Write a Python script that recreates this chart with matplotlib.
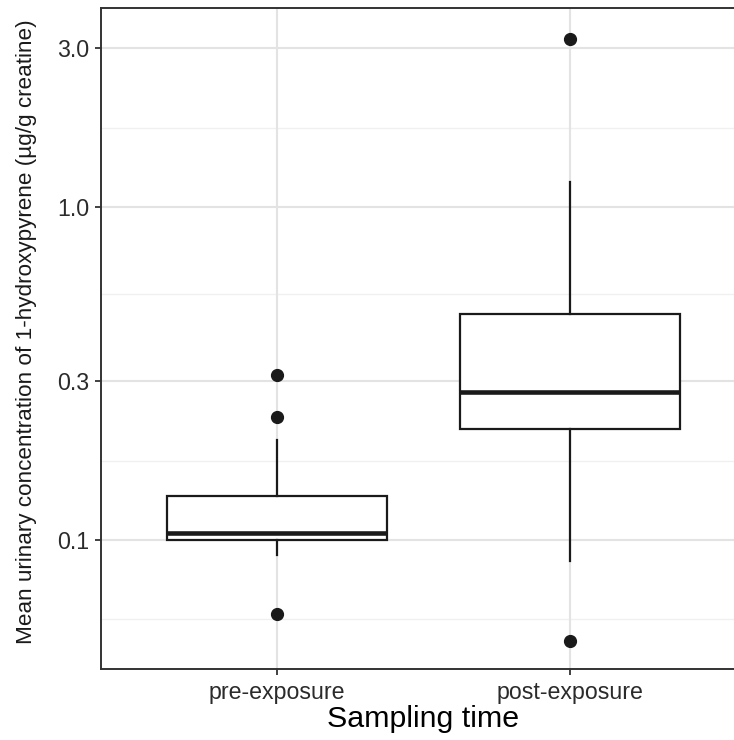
import numpy as np
import matplotlib.pyplot as plt

# ---- data ----
categories = ["pre-exposure", "post-exposure"]
whislo = [0.0901, 0.0865]
q1 = [0.100, 0.215]
med = [0.1047, 0.279]
q3 = [0.136, 0.477]
whishi = [0.1995, 1.19]
fliers = [[0.313, 0.234, 0.0598], [3.196, 0.0499]]

y_ticks = [0.1, 0.3, 1.0, 3.0]
y_tick_labels = ["0.1", "0.3", "1.0", "3.0"]

plt.rcParams["font.family"] = ["Liberation Sans", "DejaVu Sans"]

fig = plt.figure(figsize=(7.34, 7.40), dpi=100)
# right side of the panel is cut off in the reference
ax = fig.add_axes([101 / 734, 71 / 740, 645 / 734, 661 / 740])

stats = []
for i in range(len(categories)):
    stats.append(dict(whislo=whislo[i], q1=q1[i], med=med[i], q3=q3[i],
                      whishi=whishi[i], fliers=fliers[i], label=categories[i]))

pos = np.arange(1, len(categories) + 1)
ax.bxp(stats, positions=pos, widths=0.75, showcaps=False, patch_artist=True,
       boxprops=dict(facecolor="white", edgecolor="#1a1a1a", linewidth=1.6),
       medianprops=dict(color="#1a1a1a", linewidth=3.3, solid_capstyle="butt"),
       whiskerprops=dict(color="#1a1a1a", linewidth=1.6),
       flierprops=dict(marker="o", markerfacecolor="#1a1a1a",
                       markeredgecolor="#1a1a1a", markersize=8.5),
       zorder=3)

ax.set_yscale("log")
ax.set_ylim(0.04099, 3.959)
ax.set_xlim(0.4, 2.6)

ax.set_yticks(y_ticks)
ax.set_yticklabels(y_tick_labels)
ax.set_xticks(pos)
ax.set_xticklabels(categories)
ax.minorticks_off()

# grid: major + minor (minor lines halfway between majors in log space)
logt = np.log10(y_ticks)
mids = list((logt[:-1] + logt[1:]) / 2)
mids.append(logt[0] - (logt[-1] - logt[-2]) / 2)
for m in mids:
    ax.axhline(10 ** m, color="#F0F0F0", linewidth=1.0, zorder=0)
for t in y_ticks:
    ax.axhline(t, color="#E3E3E3", linewidth=1.5, zorder=0)
for p in pos:
    ax.axvline(p, color="#E3E3E3", linewidth=1.5, zorder=0)

for s in ["left", "bottom", "top"]:
    ax.spines[s].set_color("#333333")
    ax.spines[s].set_linewidth(1.4)
ax.spines["right"].set_visible(False)

ax.tick_params(axis="both", colors="#333333", length=4.5, width=1.3,
               labelsize=16.7, labelcolor="#2b2b2b", pad=4)

ax.set_xlabel("Sampling time", fontsize=21.9, color="black", labelpad=1)
ax.set_ylabel("Mean urinary concentration of 1-hydroxypyrene (µg/g creatine)",
              fontsize=16.2, color="#1a1a1a")
ax.yaxis.set_label_coords((37 - 101) / 645, 0.51)

fig.savefig("out.png", dpi=100)
